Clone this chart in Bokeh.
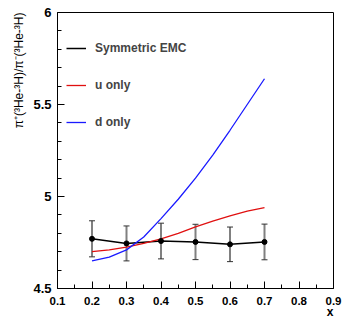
from bokeh.plotting import figure
from bokeh.models import (ColumnDataSource, Whisker, TeeHead, Legend, LegendItem,
                          FixedTicker, Title)
from bokeh.embed import file_html
from bokeh.resources import INLINE

# ---- data ----
x_pts = [0.2, 0.3, 0.4, 0.5, 0.6, 0.7]
sym_emc = [4.770, 4.745, 4.758, 4.753, 4.740, 4.753]
sym_err = [0.098, 0.095, 0.097, 0.096, 0.094, 0.097]

x_curve = [0.2, 0.25, 0.3, 0.35, 0.4, 0.45, 0.5, 0.55, 0.6, 0.65, 0.7]
u_only = [4.700, 4.710, 4.725, 4.745, 4.770, 4.800, 4.835, 4.866, 4.895, 4.920, 4.940]
d_only = [4.650, 4.670, 4.710, 4.780, 4.880, 4.985, 5.100, 5.225, 5.360, 5.500, 5.640]

x_ticks = [0.1, 0.2, 0.3, 0.4, 0.5, 0.6, 0.7, 0.8, 0.9]
x_minor = [0.15, 0.25, 0.35, 0.45, 0.55, 0.65, 0.75, 0.85]
y_ticks = [4.5, 5.0, 5.5, 6.0]
y_minor = [4.6, 4.7, 4.8, 4.9, 5.1, 5.2, 5.3, 5.4, 5.6, 5.7, 5.8, 5.9]

FONT = "Liberation Sans"

p = figure(output_backend="svg", toolbar_location=None,
           width=343, height=318,
           x_range=(0.1, 0.9), y_range=(4.5, 6.0),
           min_border_left=57, min_border_right=10,
           min_border_top=12, min_border_bottom=30)
p.grid.visible = False
p.outline_line_color = "black"
p.outline_line_width = 1
p.background_fill_color = "white"
p.border_fill_color = "white"

for ax in (p.xaxis[0], p.yaxis[0]):
    ax.major_tick_in = 7
    ax.major_tick_out = 0
    ax.minor_tick_in = 4
    ax.minor_tick_out = 0
    ax.major_label_text_font = FONT
    ax.major_label_text_font_style = "bold"
    ax.major_label_text_color = "black"
    ax.axis_line_color = "black"
    ax.major_tick_line_color = "black"
    ax.minor_tick_line_color = "black"

p.xaxis[0].ticker = FixedTicker(ticks=x_ticks, minor_ticks=x_minor)
p.yaxis[0].ticker = FixedTicker(ticks=y_ticks, minor_ticks=y_minor)
p.xaxis[0].major_label_text_font_size = "11.5px"
p.yaxis[0].major_label_text_font_size = "13px"
p.xaxis[0].major_label_standoff = 8
p.yaxis[0].major_label_standoff = 6
p.xaxis[0].major_label_overrides = {0.1: "0.1", 0.2: "0.2", 0.3: "0.3", 0.4: "0.4",
                                    0.5: "0.5", 0.6: "0.6", 0.7: "0.7", 0.8: "0.8", 0.9: "0.9"}
p.yaxis[0].major_label_overrides = {4.5: "4.5", 5.0: "5", 5.5: "5.5", 6.0: "6"}

# curves
src_pts = ColumnDataSource(dict(x=x_pts, y=sym_emc,
                                lo=[v - e for v, e in zip(sym_emc, sym_err)],
                                hi=[v + e for v, e in zip(sym_emc, sym_err)]))
r_sym = p.line(x_pts, sym_emc, line_color="black", line_width=1.5)
r_u = p.line(x_curve, u_only, line_color="#e01010", line_width=1.3)
r_d = p.line(x_curve, d_only, line_color="#1a1aff", line_width=1.3)

wh = Whisker(source=src_pts, base="x", lower="lo", upper="hi",
             line_color="#808080", line_width=2,
             upper_head=TeeHead(size=6, line_color="#333333", line_width=1),
             lower_head=TeeHead(size=6, line_color="#333333", line_width=1))
p.add_layout(wh)
p.scatter("x", "y", source=src_pts, size=5, color="black")

legend = Legend(items=[LegendItem(label="Symmetric EMC", renderers=[r_sym]),
                       LegendItem(label="u only", renderers=[r_u]),
                       LegendItem(label="d only", renderers=[r_d])],
                location=(9, 156), padding=0, margin=0, spacing=17,
                glyph_height=20, glyph_width=20, label_height=20,
                label_standoff=9, border_line_alpha=0, background_fill_alpha=0,
                label_text_font=FONT, label_text_font_style="bold",
                label_text_font_size="12px")
p.add_layout(legend)

# axis titles
p.add_layout(Title(text="π⁺(³He-³H)/π⁻(³He-³H)", align="right",
                   text_font=FONT, text_font_size="12px", text_font_style="normal",
                   text_color="black", standoff=9), "left")
p.add_layout(Title(text="x", align="right", text_font=FONT, text_font_size="12px",
                   text_font_style="bold", text_color="black", standoff=-9), "below")

open("out.html", "w").write(file_html(p, INLINE))
